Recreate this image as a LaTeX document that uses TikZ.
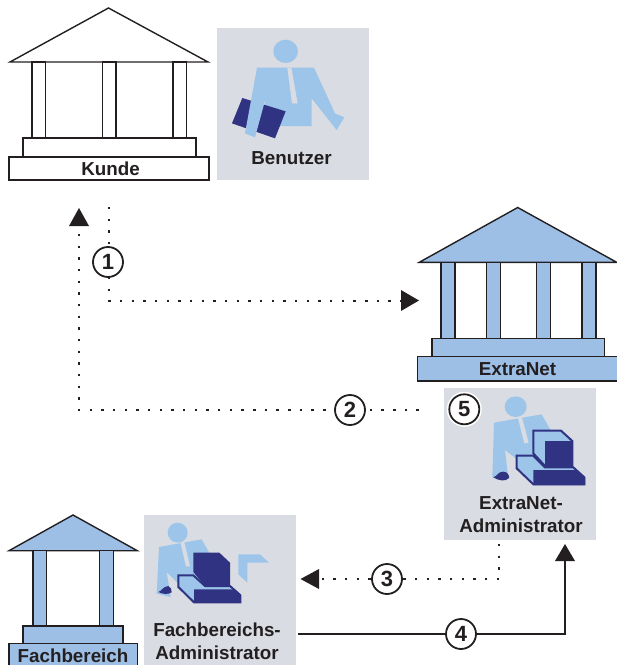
\documentclass[tikz,border=0pt]{standalone}
\usepackage{fontspec}
\setmainfont{Liberation Sans}
\definecolor{ink}{HTML}{231F20}
\definecolor{bldg}{HTML}{9DBFE6}
\definecolor{pers}{HTML}{9DC5EA}
\definecolor{panel}{HTML}{D9DCE2}
\definecolor{navy}{HTML}{303382}
\tikzset{
  part/.style={draw=ink,line width=1.4pt,line join=miter},
  lab/.style={font=\fontsize{18.8}{23}\selectfont\bfseries,text=ink,align=center,inner sep=0},
  num/.style={circle,draw=ink,line width=1.8pt,fill=white,minimum size=30pt,inner sep=0,font=\fontsize{22}{22}\selectfont\bfseries,text=ink},
  dotline/.style={draw=ink,line width=2.4pt,dash pattern=on 2.4pt off 9.27pt},
  solidline/.style={draw=ink,line width=2.2pt},
  tip/.style={fill=ink,draw=none},
  zoomed/.style={x=0.33333pt,y=-0.33333pt},
  screen/.style={draw=navy,line width=2pt,fill=pers,line join=miter}
}
\begin{document}
\begin{tikzpicture}[x=1pt,y=-1pt]
\useasboundingbox (0,0) rectangle (617,665);
% ---- panels
\fill[panel] (217,28) rectangle (369,180);
\fill[panel] (444,388) rectangle (596,540);
\fill[panel] (144,515) rectangle (296,665);
% ---- Kunde temple
\draw[part,fill=white] (108.5,8) -- (208,62) -- (10,62) -- cycle;
\foreach \c in {32,102.5,173}{\draw[part,fill=white] (\c,62) rectangle ++(13.5,76);}
\draw[part,fill=white] (23,138) rectangle (196,157);
\draw[part,fill=white] (9,157) rectangle (209,180);
\node[lab] (kunde) at (110.5,168.5) {Kunde};
% ---- ExtraNet temple
\draw[part,fill=bldg] (517.7,207.5) -- (616.7,262.3) -- (419.3,262.3) -- cycle;
\foreach \c in {441,486.5,536.5,582}{\draw[part,fill=bldg] (\c,262.3) rectangle ++(14,76);}
\draw[part,fill=bldg] (432,338.3) rectangle (604.7,356.7);
\draw[part,fill=bldg] (417.5,356.7) rectangle (619,381);
\node[lab] (extranet) at (517.5,369.5) {ExtraNet};
% ---- Fachbereich temple
\draw[part,fill=bldg] (73,515) -- (137.3,550.7) -- (9,550.7) -- cycle;
\foreach \c in {33,99.7}{\draw[part,fill=bldg] (\c,550.7) rectangle ++(13.5,75.5);}
\draw[part,fill=bldg] (23,626) rectangle (123,643.5);
\draw[part,fill=bldg] (9,643.5) rectangle (137.3,668);
\node[lab] (fach) at (73,655.5) {Fachbereich};
% ---- Benutzer figure
\begin{scope}[zoomed]
  \fill[pers] (857,154) ellipse (37 and 35);
  \fill[pers] (771,203) -- (942,203) -- (1005,340) -- (1033,352) -- (1010,390) -- (935,295) -- (935,378) -- (800,378) -- (795,300) -- cycle;
  \fill[panel] (862,203) -- (876,310) -- (893,310) -- (874,203) -- cycle;
  \fill[navy] (727,294) -- (857,334) -- (825,415) -- (696,370) -- cycle;
  \fill[pers] (771,203) -- (735,400) -- (765,412) -- (797,295) -- (810,250) -- cycle;
\end{scope}
\node[lab] (benutzer) at (291.5,158) {Benutzer};
% ---- ExtraNet admin figure
\begin{scope}[shift={(485,390)},zoomed]
  \fill[pers] (92,50) ellipse (33 and 31);
  \fill[pers] (27,98) -- (170,73) -- (205,135) -- (205,230) -- (130,235) -- (60,180) -- (70,265) -- (22,262) -- cycle;
  \fill[panel] (99,85) -- (118,160) -- (131,158) -- (111,83) -- cycle;
  \fill[navy] (25,262) .. controls (38,258) and (38,245) .. (55,245) .. controls (68,245) and (74,258) .. (72,264) .. controls (62,276) and (40,272) .. (25,262) -- cycle;
  \draw[screen] (145,122) -- (228,122) -- (262,153) -- (262,228) -- (180,228) -- (145,190) -- cycle;
  \fill[navy] (180,153) -- (262,153) -- (262,228) -- (180,228) -- cycle;
  \draw[screen] (95,197) -- (145,197) -- (180,232) -- (265,232) -- (298,262) -- (298,283) -- (145,283) -- (95,235) -- cycle;
  \fill[navy] (145,240) -- (275,240) -- (300,262) -- (300,285) -- (145,285) -- cycle;
\end{scope}
\node[lab] (xadmin) at (521,514.5) {ExtraNet-\\Administrator};
% ---- Fachbereichs admin figure
\begin{scope}[shift={(150,517)},zoomed]
  \fill[pers] (83,47) ellipse (30 and 30);
  \fill[pers] (27,90) -- (155,67) -- (185,120) -- (185,205) -- (90,205) -- (50,165) -- (62,240) -- (20,230) -- cycle;
  \fill[panel] (92,78) -- (108,148) -- (120,148) -- (103,75) -- cycle;
  \fill[navy] (25,225) .. controls (35,222) and (40,208) .. (55,207) .. controls (62,210) and (66,218) .. (65,226) .. controls (55,233) and (38,232) .. (25,225) -- cycle;
  \fill[pers] (265,112) -- (330,112) -- (357,137) -- (292,137) -- (292,197) -- (265,172) -- cycle;
  \draw[screen] (85,175) -- (130,175) -- (165,207) -- (240,207) -- (271,235) -- (271,256) -- (132,256) -- (85,210) -- cycle;
  \fill[navy] (130,107) -- (208,107) -- (240,137) -- (240,207) -- (165,207) -- (130,165) -- cycle;
  \fill[navy] (132,217) -- (255,217) -- (272,232) -- (272,257) -- (132,257) -- cycle;
\end{scope}
\node[lab] (fadmin) at (217,641.5) {Fachbereichs-\\Administrator};
% ---- connector anchors
\coordinate (c1a) at (108.7,207);
\coordinate (c1b) at (108.7,300.7);
\coordinate (c1e) at (401,300.7);
\coordinate (c2a) at (79,234);
\coordinate (c2b) at (79,410);
\coordinate (c2e) at (428,410);
\coordinate (c3a) at (499,544);
\coordinate (c3b) at (499,579);
\coordinate (c3e) at (319,579);
\coordinate (c4a) at (298,634);
\coordinate (c4b) at (565,634);
\coordinate (c4e) at (565,561);
% ---- connectors
\draw[dotline] (c1a) -- (c1b) -- (c1e);
\draw[dotline] (c2a) -- (c2b) -- (c2e);
\draw[dotline] (c3a) -- (c3b) -- (c3e);
\draw[solidline] (c4a) -- (c4b) -- (c4e);
% ---- arrow tips
\fill[tip] (401,290) -- (419,300.5) -- (401,311) -- cycle;
\fill[tip] (69,226) -- (79,208) -- (89,226) -- cycle;
\fill[tip] (319,569) -- (300.5,579) -- (319,589) -- cycle;
\fill[tip] (555,561) -- (565,544) -- (575,561) -- cycle;
% ---- numbers
\node[num] (n1) at (108,262) {1};
\node[num] (n2) at (350,410) {2};
\node[num] (n3) at (387,579) {3};
\node[num] (n4) at (461,634) {4};
\fill[white] (464.3,409.3) circle (17.5);
\node[num] (n5) at (464.3,409.3) {5};
\end{tikzpicture}
\end{document}
